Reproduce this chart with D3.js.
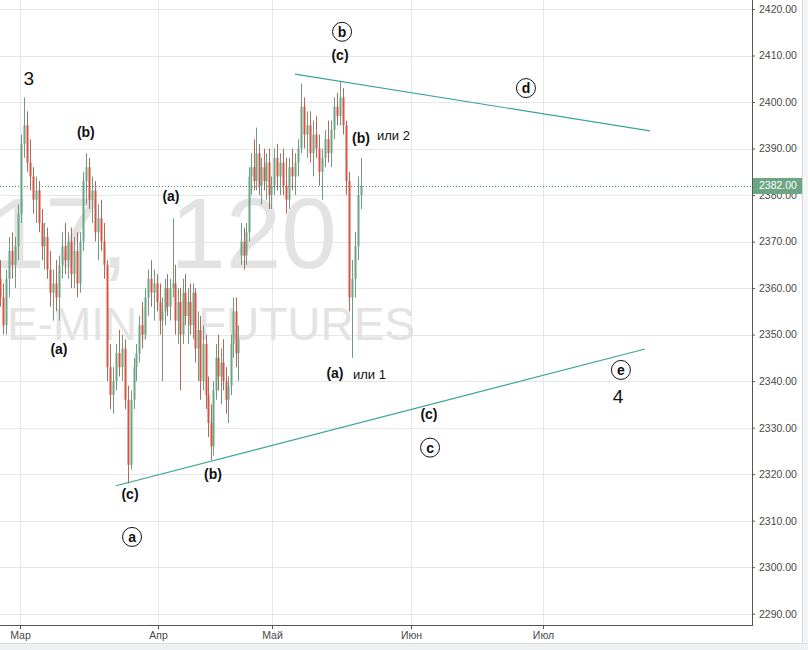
<!DOCTYPE html>
<html>
<head>
<meta charset="utf-8">
<script src="https://cdn.jsdelivr.net/npm/d3@7"></script>
<style>
  body { margin: 0; background: #fff; }
  svg { display: block; font-family: "Liberation Sans", Arial, sans-serif; }
</style>
</head>
<body>
<svg width="808" height="650"></svg>
<script>
// ES 120-min bars (one bar per 16h slot)
var barStart = new Date(2017, 1, 24, 12),
    barHours = 16;

var opens = [2362,2358,2352,2362,2368,2365,2369,2376,2391,2395,2387,2384,2379,2381,2374,2369,2371,2364,2359,2361,
  2358,2365,2369,2366,2370,2363,2368,2361,2370,2383,2386,2379,2381,2372,2375,2370,2365,2343,2337,2340,
  2346,2343,2347,2336,2322,2336,2343,2346,2352,2350,2358,2362,2359,2361,2357,2353,2355,2360,2356,2360,
  2361,2353,2357,2350,2359,2354,2357,2352,2359,2347,2351,2340,2348,2337,2331,2326,2338,2345,2341,2344,
  2340,2336,2339,2348,2355,2346,2367,2370,2367,2372,2384,2386,2383,2389,2382,2386,2383,2387,2380,2382,
  2388,2384,2387,2382,2379,2386,2384,2387,2390,2399,2393,2395,2389,2393,2390,2385,2388,2392,2389,2394,
  2399,2397,2401,2395,2383,2358,2362,2369,2380];
var highs = [2366,2361,2364,2371,2372,2371,2378,2393,2401,2398,2392,2386,2384,2383,2377,2374,2373,2368,2364,2366,
  2367,2372,2374,2372,2373,2371,2372,2372,2385,2389,2388,2384,2383,2378,2379,2374,2366,2348,2343,2348,
  2351,2350,2349,2339,2338,2345,2348,2354,2357,2360,2364,2366,2364,2363,2361,2358,2362,2363,2362,2375,
  2365,2360,2360,2362,2363,2360,2361,2361,2360,2355,2354,2352,2350,2341,2335,2340,2348,2350,2347,2349,
  2343,2341,2350,2358,2358,2352,2374,2373,2374,2386,2389,2392,2394.5,2391,2388,2390,2389,2390,2384,2390,
  2391,2389,2390,2388,2388,2390,2389,2392,2404,2401,2398,2398,2396,2397,2393,2390,2394,2396,2396,2401,
  2402,2404.5,2403,2396,2385,2366,2372,2384,2388];
var lows = [2356,2350,2350,2358,2362,2360,2366,2374,2388,2385,2381,2376,2374,2372,2366,2364,2362,2356,2353,2355,
  2353,2362,2363,2362,2360,2360,2358,2359,2368,2378,2377,2374,2370,2366,2368,2362,2340,2334,2333,2338,
  2341,2340,2334,2318,2321,2334,2340,2344,2347,2349,2354,2356,2353,2355,2350,2340,2352,2354,2353,2358,
  2350,2348,2338,2348,2352,2348,2350,2349,2344,2340,2336,2338,2334,2328,2323,2324,2336,2338,2335,2338,
  2333,2331,2337,2345,2343,2340,2365,2364,2365,2370,2380,2381,2381,2380,2378,2381,2379,2377,2377,2380,
  2381,2380,2380,2376,2377,2381,2380,2384,2389,2390,2388,2387,2384,2388,2382,2379,2386,2387,2386,2392,
  2395,2395,2393,2380,2355,2345,2358,2366,2377];
var closes = [2358,2352,2362,2368,2365,2369,2376,2391,2395,2387,2384,2379,2381,2374,2369,2371,2364,2359,2361,2358,
  2365,2369,2366,2370,2363,2368,2361,2370,2383,2386,2379,2381,2372,2375,2370,2365,2343,2337,2340,2346,
  2343,2347,2336,2322,2336,2343,2346,2352,2350,2358,2362,2359,2361,2357,2353,2355,2360,2356,2360,2361,
  2353,2357,2350,2359,2354,2357,2352,2359,2347,2351,2340,2348,2337,2331,2326,2338,2345,2341,2344,2340,
  2336,2339,2348,2355,2346,2349,2370,2367,2372,2384,2386,2383,2389,2382,2386,2383,2387,2380,2382,2388,
  2384,2387,2382,2379,2386,2384,2387,2390,2399,2393,2395,2389,2393,2390,2385,2388,2392,2389,2394,2399,
  2397,2401,2395,2383,2358,2362,2369,2380,2382];

var lastPrice = 2382;

var priceTicks = [2290, 2300, 2310, 2320, 2330, 2340, 2350, 2360, 2370, 2380, 2390, 2400, 2410, 2420];
var monthTicks = [new Date(2017, 2, 1), new Date(2017, 3, 1), new Date(2017, 4, 1), new Date(2017, 5, 1), new Date(2017, 6, 1)];
var monthLabels = ["Мар", "Апр", "Май", "Июн", "Июл"];

// triangle lines [date, price]
var upperLine = [["2017-05-06T03:00", 2406.0], ["2017-07-25T07:00", 2393.8]];
var lowerLine = [["2017-03-22T13:30", 2317.5], ["2017-07-24T05:00", 2346.9]];

// wave labels
var labelTexts  = ["3", "(b)", "(a)", "(a)", "(c)", "(b)", "a", "b", "(c)", "(b)", "или 2", "(a)", "или 1", "d", "(c)", "c", "e", "4"];
var labelDates  = ["2017-03-03T00:00", "2017-03-15T19:00", "2017-03-09T18:00", "2017-04-04T10:00", "2017-03-25T17:00",
  "2017-04-15T11:00", "2017-03-26T04:00", "2017-05-16T15:00", "2017-05-16T04:00", "2017-05-20T20:00",
  "2017-05-24T10:00", "2017-05-15T01:00", "2017-05-19T01:30", "2017-06-27T03:00", "2017-06-05T02:00",
  "2017-06-05T08:00", "2017-07-18T17:00", "2017-07-18T01:00"];
var labelPrices = [2405, 2393.6, 2346.9, 2379.8, 2315.8, 2320.1, 2306.5, 2415.1, 2410.1, 2392.3,
  2392.9, 2341.8, 2341.4, 2403.0, 2333.0, 2325.7, 2342.4, 2336.8];
var labelKinds  = ["big", "paren", "paren", "paren", "paren", "paren", "circle", "circle", "paren", "paren",
  "note", "paren", "note", "circle", "paren", "circle", "circle", "big"];

// layout
var svg = d3.select("svg"),
    plotW = 752,
    plotH = 625;

var x = d3.scaleTime()
    .domain([new Date(2017, 1, 1), new Date(2017, 2, 1), new Date(2017, 3, 1), new Date(2017, 4, 1), new Date(2017, 5, 1), new Date(2017, 6, 1)])
    .range([-104.6, 20, 158, 272, 411, 543]);
var y = d3.scaleLinear().domain([2290, 2420]).range([613.7, 9]);

// chrome
svg.append("rect").attr("x", 0).attr("y", 643).attr("width", 808).attr("height", 7).attr("fill", "#eef0f2");
svg.append("line").attr("x1", 0).attr("x2", 808).attr("y1", 643.5).attr("y2", 643.5).attr("stroke", "#dadde0");
svg.append("rect").attr("x", 802).attr("y", 0).attr("width", 6).attr("height", 643).attr("fill", "#f4f5f6");
svg.append("line").attr("x1", 802.5).attr("x2", 802.5).attr("y1", 0).attr("y2", 643).attr("stroke", "#d4d6d8");

svg.append("clipPath").attr("id", "plot").append("rect").attr("width", plotW).attr("height", plotH);

// grid
var grid = svg.append("g").attr("stroke", "#e6e6e6").attr("stroke-width", 1);
grid.selectAll(".h").data(priceTicks).enter().append("line")
    .attr("x1", 0).attr("x2", plotW)
    .attr("y1", function(d) { return Math.round(y(d)) + 0.5; })
    .attr("y2", function(d) { return Math.round(y(d)) + 0.5; });
grid.selectAll(".v").data(monthTicks).enter().append("line")
    .attr("y1", 0).attr("y2", plotH)
    .attr("x1", function(d) { return Math.round(x(d)) + 0.5; })
    .attr("x2", function(d) { return Math.round(x(d)) + 0.5; });

// watermark
var wm = svg.append("g").attr("fill", "#e3e3e3").attr("clip-path", "url(#plot)");
var wm1 = wm.append("text").attr("x", 337).attr("y", 268).attr("text-anchor", "end").attr("font-size", 100);
wm1.append("tspan").text("ESM17,");
wm1.append("tspan").attr("dx", 14).text(" 120");
wm.append("text").attr("x", 7).attr("y", 340).attr("font-size", 46)
    .attr("word-spacing", 35).text("E-MINI FUTURES");

// candles
var bars = opens.map(function(o, i) {
  return { date: d3.timeHour.offset(barStart, i * barHours), open: o, high: highs[i], low: lows[i], close: closes[i] };
});

var candles = svg.append("g").attr("clip-path", "url(#plot)")
  .selectAll("g").data(bars).enter().append("g")
    .attr("transform", function(d) { return "translate(" + Math.round(x(d.date)) + ",0)"; });

candles.append("line")
    .attr("x1", 0.5).attr("x2", 0.5)
    .attr("y1", function(d) { return y(d.high); })
    .attr("y2", function(d) { return y(d.low); })
    .attr("stroke", function(d) { return d.close >= d.open ? "#6f9a84" : "#b06a5c"; });

candles.append("rect")
    .attr("x", -0.5).attr("width", 2)
    .attr("y", function(d) { return y(Math.max(d.open, d.close)); })
    .attr("height", function(d) { return Math.max(1, Math.abs(y(d.open) - y(d.close))); })
    .attr("fill", function(d) { return d.close >= d.open ? "#6ba583" : "#d75442"; });

// triangle lines
var line = d3.line()
    .x(function(d) { return x(new Date(d[0])); })
    .y(function(d) { return y(d[1]); });
svg.append("g").selectAll("path").data([upperLine, lowerLine]).enter().append("path")
    .attr("d", line)
    .attr("fill", "none")
    .attr("stroke", "#3aa598")
    .attr("stroke-width", 1.2);

// last price line
svg.append("line")
    .attr("x1", 0).attr("x2", plotW)
    .attr("y1", Math.round(y(lastPrice)) + 0.5).attr("y2", Math.round(y(lastPrice)) + 0.5)
    .attr("stroke", "#4f8a72").attr("stroke-dasharray", "1,2");

// right axis
var yAxis = svg.append("g")
    .attr("transform", "translate(" + plotW + ",0)")
    .call(d3.axisRight(y).tickValues(priceTicks).tickFormat(d3.format(".2f")).tickSize(3).tickSizeOuter(0).tickPadding(4));
yAxis.select(".domain").remove();
yAxis.selectAll("line").attr("stroke", "#555");
yAxis.selectAll("text").attr("fill", "#4a4a4a").attr("font-size", 10.5).attr("font-family", "Liberation Sans, Arial, sans-serif");

// bottom axis
var xAxis = svg.append("g")
    .attr("transform", "translate(0," + plotH + ")")
    .call(d3.axisBottom(x).tickValues(monthTicks).tickFormat(function(d, i) { return monthLabels[i]; }).tickSize(4).tickSizeOuter(0).tickPadding(3));
xAxis.select(".domain").remove();
xAxis.selectAll("line").attr("stroke", "#555");
xAxis.selectAll("text").attr("fill", "#4a4a4a").attr("font-size", 10.5).attr("font-family", "Liberation Sans, Arial, sans-serif");

svg.append("line").attr("x1", plotW + 0.5).attr("x2", plotW + 0.5).attr("y1", 0).attr("y2", plotH + 0.5).attr("stroke", "#555");
svg.append("line").attr("x1", 0).attr("x2", plotW + 1).attr("y1", plotH + 0.5).attr("y2", plotH + 0.5).attr("stroke", "#555");

// last price tag
var tagY = y(lastPrice);
svg.append("rect").attr("x", plotW + 1).attr("y", Math.round(tagY) - 8).attr("width", 49).attr("height", 16).attr("fill", "#6ba583");
svg.append("text").attr("x", plotW + 7).attr("y", tagY).attr("dy", "0.35em")
    .attr("fill", "#fff").attr("font-size", 10.5).text(d3.format(".2f")(lastPrice));

// wave labels
var labels = svg.append("g").selectAll("g").data(labelTexts).enter().append("g")
    .attr("transform", function(d, i) { return "translate(" + x(new Date(labelDates[i])) + "," + y(labelPrices[i]) + ")"; });

labels.filter(function(d, i) { return labelKinds[i] === "circle"; })
  .append("circle").attr("r", 9.5).attr("fill", "#fff").attr("stroke", "#111").attr("stroke-width", 1);

labels.append("text")
    .attr("dy", "0.35em")
    .attr("text-anchor", function(d, i) { return labelKinds[i] === "note" ? "start" : "middle"; })
    .attr("font-size", function(d, i) { return { big: 19, paren: 14, circle: 14, note: 13 }[labelKinds[i]]; })
    .attr("font-weight", function(d, i) { return labelKinds[i] === "paren" || labelKinds[i] === "circle" ? "bold" : "normal"; })
    .attr("fill", "#111")
    .text(function(d) { return d; });
</script>
</body>
</html>
